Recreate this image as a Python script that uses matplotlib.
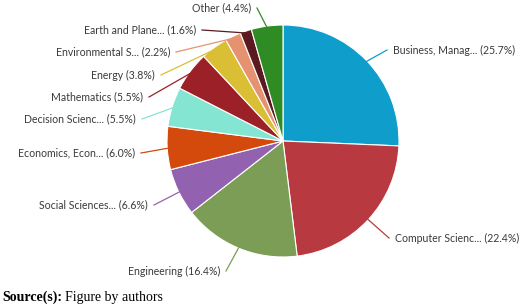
import numpy as np
from matplotlib import pyplot as plt

labels = ['Business, Manag...', 'Computer Scienc...', 'Engineering', 'Social Sciences...',
          'Economics, Econ...', 'Decision Scienc...', 'Mathematics', 'Energy',
          'Environmental S...', 'Earth and Plane...', 'Other']
shares = [25.7, 22.4, 16.4, 6.6, 6.0, 5.5, 5.5, 3.8, 2.2, 1.6, 4.4]
colors = ['#0f9dcc', '#b83a40', '#7b9d55', '#9262b0', '#d4490c', '#84e6d2',
          '#9c2027', '#dabe34', '#e59271', '#5b1a1f', '#2f8c24']

# label anchor in pixel coords (x, y from top), alignment
label_pos = [(393, 50, 'left'), (395, 238, 'left'), (220, 271, 'right'), (148, 205, 'right'),
             (135, 153, 'right'), (136, 119, 'right'), (143, 97, 'right'), (155, 75, 'right'),
             (170, 52, 'right'), (196, 30, 'right'), (251, 8, 'right')]

W, H = 520, 306
cx, cy, R = 283, H - 141, 116

fig = plt.figure(figsize=(W / 100, H / 100), dpi=100)
ax = fig.add_axes([0, 0, 1, 1])
wedges, _ = ax.pie(shares, colors=colors, startangle=90, counterclock=False,
                   center=(cx, cy), radius=R,
                   wedgeprops=dict(edgecolor='white', linewidth=0.8))
ax.set_xlim(0, W)
ax.set_ylim(0, H)
ax.axis('off')

for w, lab, val, (tx, ty, ha) in zip(wedges, labels, shares, label_pos):
    ang = np.deg2rad((w.theta1 + w.theta2) / 2)
    sx = cx + (R - 2) * np.cos(ang)
    sy = cy + (R - 2) * np.sin(ang)
    ex = tx - 6 if ha == 'left' else tx + 6
    ey = H - ty
    ax.plot([sx, ex], [sy, ey], color=w.get_facecolor(), lw=0.9)
    ax.text(tx, ey, '%s (%.1f%%)' % (lab, val), ha=ha, va='center',
            fontsize=7.6, family='Lato', color='#3a3a3a')

fig.text(2 / W, 1 - 297 / H, 'Source(s):', family='Liberation Serif', fontweight='bold',
         fontsize=10, va='center')
fig.text(65 / W, 1 - 297 / H, 'Figure by authors', family='Liberation Serif',
         fontsize=10, va='center')

plt.savefig('out.png', dpi=100)
